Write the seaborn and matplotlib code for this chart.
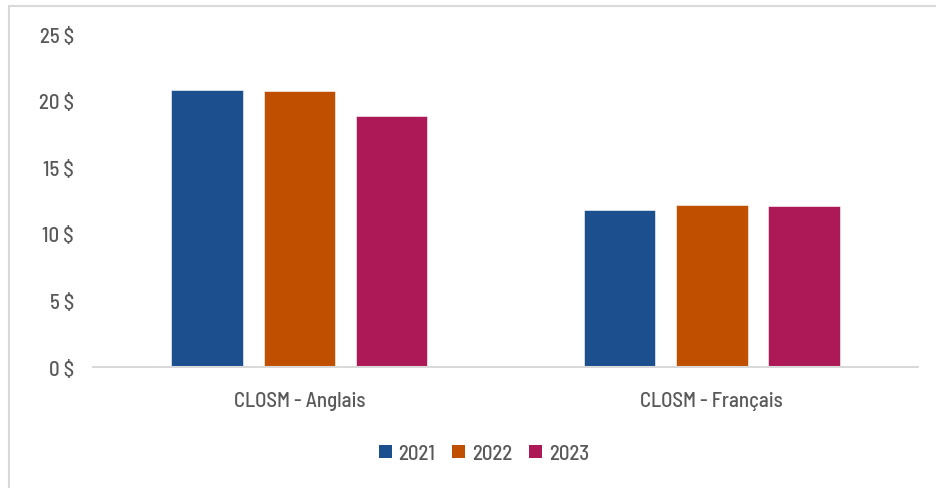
import pandas as pd
import matplotlib
matplotlib.use('Agg')
import matplotlib.pyplot as plt
import seaborn as sns
from matplotlib.patches import Patch
from matplotlib.lines import Line2D

# Data
categories = ['CLOSM - Anglais', 'CLOSM - Français']
years = ['2021', '2022', '2023']
values_2021 = [20.82, 11.80]
values_2022 = [20.70, 12.18]
values_2023 = [18.83, 12.08]
y_ticks = [0, 5, 10, 15, 20, 25]
y_tick_labels = ['0 $', '5 $', '10 $', '15 $', '20 $', '25 $']

colors = ['#1B4F8E', '#C04F00', '#AD1957']
text_color = '#595959'

df = pd.DataFrame({
    'category': categories * 3,
    'year': [years[0]] * 2 + [years[1]] * 2 + [years[2]] * 2,
    'value': values_2021 + values_2022 + values_2023,
})

sns.set_theme(style='white')
plt.rcParams['font.family'] = ['Barlow Semi Condensed', 'DejaVu Sans']
plt.rcParams['font.weight'] = 'medium'

fig = plt.figure(figsize=(9.36, 4.89), dpi=100)
ax = fig.add_axes([0.0997, 0.2468, 0.8808, 0.6816])

sns.barplot(data=df, x='category', y='value', hue='year', palette=colors,
            width=0.67, gap=0.22, ax=ax, legend=False, saturation=1,
            edgecolor='white', linewidth=0.4)

ax.set_xlim(-0.5, 1.5)
ax.set_ylim(0, 25)
ax.set_yticks(y_ticks)
ax.set_yticklabels(y_tick_labels)
ax.set_xlabel('')
ax.set_ylabel('')
for s in ['top', 'right', 'left']:
    ax.spines[s].set_visible(False)
ax.spines['bottom'].set_color('#D9D9D9')
ax.spines['bottom'].set_linewidth(1.5)
ax.tick_params(axis='both', length=0, colors=text_color, labelsize=15)
ax.tick_params(axis='y', pad=14)
ax.tick_params(axis='x', pad=17)
for lbl in ax.get_yticklabels():
    lbl.set_va('center_baseline')

handles = [Patch(facecolor=c, edgecolor='none') for c in colors]
fig.legend(handles, years, loc='center', bbox_to_anchor=(0.517, 0.071), ncol=3,
           frameon=False, fontsize=15, labelcolor=text_color,
           handlelength=0.63, handleheight=0.63, handletextpad=0.33, columnspacing=0.8)

# light frame around the chart (top and left edges visible)
fig.add_artist(Line2D([8.5 / 936, 1], [1 - 6.5 / 489, 1 - 6.5 / 489],
                      transform=fig.transFigure, color='#D9D9D9', lw=1.5))
fig.add_artist(Line2D([8.5 / 936, 8.5 / 936], [0, 1 - 6.5 / 489],
                      transform=fig.transFigure, color='#D9D9D9', lw=1.5))

fig.savefig('out.png', dpi=100)
